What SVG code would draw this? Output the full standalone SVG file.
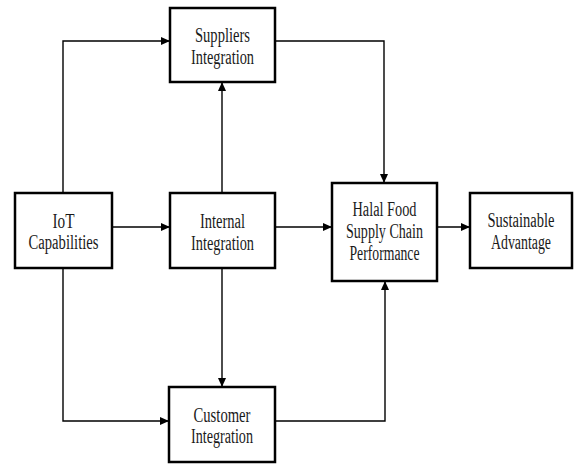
<svg xmlns="http://www.w3.org/2000/svg" width="574" height="464" viewBox="0 0 574 464">
<defs>
<marker id="ah" markerUnits="userSpaceOnUse" markerWidth="10" markerHeight="10" refX="9" refY="5" orient="auto">
<path d="M0,1 L9,5 L0,9 Z" fill="#000"/>
</marker>
<style>
.box{fill:#fff;stroke:#000;stroke-width:2.5}
.t{font-family:"Liberation Serif","Times New Roman",serif;font-size:20px;fill:#1a1a1a;text-anchor:middle}
.c{fill:none;stroke:#000;stroke-width:1.4;marker-end:url(#ah)}
</style>
</defs>
<rect width="574" height="464" fill="#fff"/>
<g id="connectors">
<path class="c" d="M63,193 V41 H170"/>
<path class="c" d="M63,268 V421 H169"/>
<path class="c" d="M112,227 H170"/>
<path class="c" d="M222,193 V82"/>
<path class="c" d="M222,268 V387"/>
<path class="c" d="M275,227 H332"/>
<path class="c" d="M275,41 H384 V183"/>
<path class="c" d="M275,421 H385 V281"/>
<path class="c" d="M437,227 H470"/>
</g>
<g id="suppliers">
<rect class="box" x="170" y="8" width="105" height="74"/>
<text class="t" x="222.5" y="42" textLength="55" lengthAdjust="spacingAndGlyphs">Suppliers</text>
<text class="t" x="222.5" y="64" textLength="63" lengthAdjust="spacingAndGlyphs">Integration</text>
</g>
<g id="iot">
<rect class="box" x="15" y="193" width="97" height="75"/>
<text class="t" x="63.5" y="228" textLength="22" lengthAdjust="spacingAndGlyphs">IoT</text>
<text class="t" x="63.5" y="249" textLength="70" lengthAdjust="spacingAndGlyphs">Capabilities</text>
</g>
<g id="internal">
<rect class="box" x="170" y="193" width="105" height="75"/>
<text class="t" x="222.5" y="228" textLength="45" lengthAdjust="spacingAndGlyphs">Internal</text>
<text class="t" x="222.5" y="250" textLength="63" lengthAdjust="spacingAndGlyphs">Integration</text>
</g>
<g id="halal">
<rect class="box" x="332" y="183" width="105" height="98"/>
<text class="t" x="384.5" y="216" textLength="64" lengthAdjust="spacingAndGlyphs">Halal Food</text>
<text class="t" x="384.5" y="238" textLength="77" lengthAdjust="spacingAndGlyphs">Supply Chain</text>
<text class="t" x="384.5" y="260" textLength="70" lengthAdjust="spacingAndGlyphs">Performance</text>
</g>
<g id="sustainable">
<rect class="box" x="470" y="193" width="102" height="75"/>
<text class="t" x="521" y="227" textLength="67" lengthAdjust="spacingAndGlyphs">Sustainable</text>
<text class="t" x="521" y="249" textLength="60" lengthAdjust="spacingAndGlyphs">Advantage</text>
</g>
<g id="customer">
<rect class="box" x="169" y="387" width="106" height="75"/>
<text class="t" x="222" y="422" textLength="57" lengthAdjust="spacingAndGlyphs">Customer</text>
<text class="t" x="222" y="443" textLength="62" lengthAdjust="spacingAndGlyphs">Integration</text>
</g>
</svg>
